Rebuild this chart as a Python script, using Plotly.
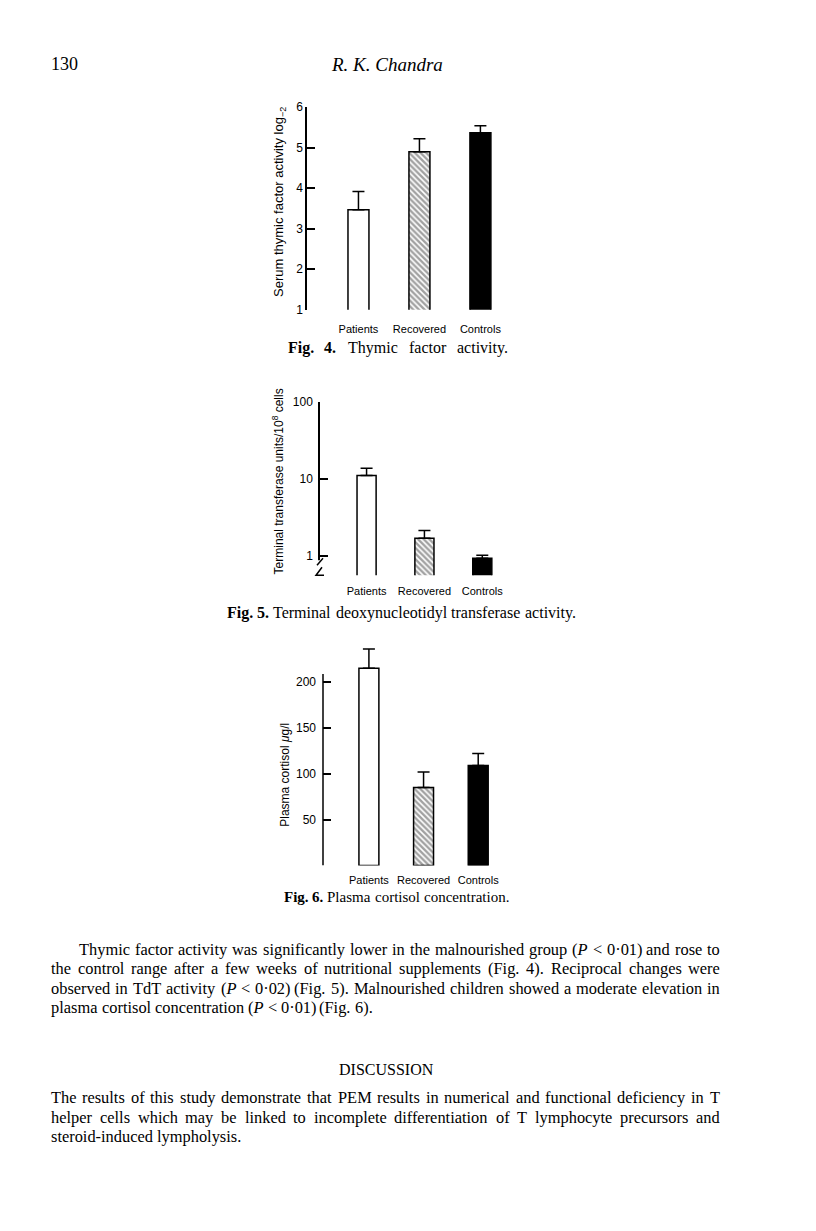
import plotly.graph_objects as go

# ---------------- data ----------------
categories = ["Patients", "Recovered", "Controls"]

fig4_values = [3.47, 4.90, 5.37]
fig4_errors = [0.45, 0.32, 0.17]
fig4_ticks = [1, 2, 3, 4, 5, 6]
fig4_ticktext = ["1", "2", "3", "4", "5", "6"]

fig5_values = [11.1, 1.71, 0.94]
fig5_errors = [2.6, 0.45, 0.09]
fig5_ticks = [1, 10, 100]
fig5_ticktext = ["1", "10", "100"]

fig6_values = [215, 85, 109]
fig6_errors = [21, 17, 13]
fig6_ticks = [50, 100, 150, 200]
fig6_ticktext = ["50", "100", "150", "200"]
fig6_axis_top = 208.7

bar_colors = ["white", "white", "black"]
bar_patterns = ["", "\\", ""]

W, H = 816, 1231
# the captured page maps figure rows y -> 0.9907*y + 5.6; compensate
Y_SCALE, Y_SHIFT = 0.9907, 5.6


def px(x):
    return x / W


def py(y):
    return 1 - ((y - Y_SHIFT) / Y_SCALE) / H


SANS = "Liberation Sans"
SERIF = "Liberation Serif"

# Times / Liberation Serif advance widths (per 1000 em)
TW = {' ': 250, 'a': 444, 'b': 500, 'c': 444, 'd': 500, 'e': 444, 'f': 333,
      'g': 500, 'h': 500, 'i': 278, 'j': 278, 'k': 500, 'l': 278, 'm': 778,
      'n': 500, 'o': 500, 'p': 500, 'q': 500, 'r': 333, 's': 389, 't': 278,
      'u': 500, 'v': 500, 'w': 722, 'x': 500, 'y': 500, 'z': 444,
      'A': 722, 'B': 667, 'C': 667, 'D': 722, 'E': 611, 'F': 556, 'G': 722,
      'H': 722, 'I': 333, 'J': 389, 'K': 722, 'L': 611, 'M': 889, 'N': 722,
      'O': 722, 'P': 556, 'Q': 722, 'R': 667, 'S': 556, 'T': 611, 'U': 722,
      'V': 722, 'W': 944, 'X': 722, 'Y': 722, 'Z': 611,
      '.': 250, ',': 250, '(': 333, ')': 333, '<': 564, '·': 250, '-': 333}

STRUT = '<span style="color:rgba(0,0,0,0)">|</span>'

fig = go.Figure()


def add_bars(values, errors, xa, ya, width):
    fig.add_trace(go.Bar(
        x=categories, y=values, width=width,
        xaxis=xa, yaxis=ya,
        marker=dict(color=bar_colors,
                    line=dict(color="black", width=1.5),
                    pattern=dict(shape=bar_patterns, fgcolor="black",
                                 bgcolor="white", size=4, solidity=0.6)),
        error_y=dict(type="data", symmetric=False, array=errors,
                     arrayminus=[0, 0, 0], color="black", thickness=1.5,
                     width=6),
        showlegend=False, hoverinfo="skip"))


add_bars(fig4_values, fig4_errors, "x", "y", 0.344)
add_bars(fig5_values, fig5_errors, "x2", "y2", 0.33)
add_bars(fig6_values, fig6_errors, "x3", "y3", 0.365)


def xaxis_cfg(left, right, rng, anchor, standoff):
    return dict(domain=[px(left), px(right)], range=rng, anchor=anchor,
                type="category", showline=False, ticks="", showgrid=False,
                zeroline=False, ticklabelstandoff=standoff,
                tickfont=dict(family=SANS, size=11, color="black"))


def yaxis_cfg(top, bottom, rng, anchor, tickvals, ticktext, typ="linear",
              showline=True, standoff=0):
    return dict(domain=[py(bottom), py(top)], range=rng, anchor=anchor,
                type=typ, tickvals=tickvals, ticktext=ticktext,
                ticks="inside", ticklen=8, tickwidth=1.5, tickcolor="black",
                showline=showline, linewidth=1.5, linecolor="black",
                showgrid=False, zeroline=False, ticklabelstandoff=standoff,
                tickfont=dict(family=SANS, size=12, color="black"))


y3 = yaxis_cfg(640.6, 866, [0, 245], "x3", fig6_ticks, fig6_ticktext,
               showline=False, standoff=6)
y3["minor"] = dict(tickmode="array", tickvals=[0], ticks="inside", ticklen=8,
                   tickwidth=1.5, tickcolor="black", showgrid=False)

fig.update_layout(
    width=W, height=H, autosize=False,
    margin=dict(l=0, r=0, t=0, b=0),
    paper_bgcolor="white", plot_bgcolor="rgba(0,0,0,0)",
    xaxis=xaxis_cfg(307, 517, [-0.844, 2.6], "y", 11),
    yaxis=yaxis_cfg(106, 309, [1, 6], "x", fig4_ticks, fig4_ticktext),
    xaxis2=xaxis_cfg(320, 517, [-0.805, 2.6], "y2", 8),
    yaxis2=yaxis_cfg(401, 575, [-0.245, 2], "x2", fig5_ticks, fig5_ticktext,
                     typ="log", standoff=3),
    xaxis3=xaxis_cfg(323, 511, [-0.84, 2.6], "y3", 6),
    yaxis3=y3,
)

# Fig. 6 axis line stops near the top tick
fig.add_shape(type="line", xref="x3 domain", yref="y3", x0=0, x1=0,
              y0=0, y1=fig6_axis_top, line=dict(color="black", width=1.5))

# axis break on the log axis of Fig. 5
fig.add_shape(type="rect", xref="paper", yref="paper",
              x0=px(318), x1=px(323), y0=py(576), y1=py(560),
              line=dict(width=0), fillcolor="white", layer="above")
fig.add_shape(type="path", xref="paper", yref="paper",
              path=f"M {px(323)},{py(558)} L {px(317)},{py(565)} "
                   f"M {px(322)},{py(567)} L {px(316)},{py(575)} "
                   f"L {px(324)},{py(575)}",
              line=dict(color="black", width=1.5), layer="above")

annotations = []


def ann(text, x, y, size, family=SERIF, xanchor="center", angle=0):
    annotations.append(dict(text=text, x=px(x), y=py(y), xref="paper",
                            yref="paper", xanchor=xanchor, yanchor="middle",
                            showarrow=False, textangle=angle, borderpad=0,
                            font=dict(family=family, size=size,
                                      color="black")))


def word_width(w, size):
    total = 0
    for ch in w:
        total += TW.get(ch, 500)
    if w.startswith("(P"):
        total += 611 - 556  # italic P
    return total * size / 1000


def markup(w, bold_words=()):
    if w in bold_words:
        return "<b>" + w + "</b>"
    if w.startswith("(P"):
        return "(<i>P</i>" + w[2:]
    if w == "<":
        return "&lt;"
    return w


def text_line(text, x0, x1, y, size, justify=True, bold_words=()):
    words = text.split(" ")
    widths = [word_width(w, size) for w in words]
    if justify and len(words) > 1:
        gap = (x1 - x0 - sum(widths)) / (len(words) - 1)
    else:
        gap = TW[' '] * size / 1000
    x = x0
    for w, wd in zip(words, widths):
        ann(markup(w, bold_words) + STRUT, x, y, size, xanchor="left")
        x += wd + gap


# header
ann("130", 50, 63, 18, xanchor="left")
ann("<i>R. K. Chandra</i>", 330, 63, 19, xanchor="left")

# y-axis titles
ann("Serum thymic factor activity log<sub>−2</sub>", 280, 201, 13,
    family=SANS, angle=-90)
ann("Terminal transferase units/10<sup>8</sup> cells", 278, 481, 12,
    family=SANS, angle=-90)
ann("Plasma cortisol <i>μ</i>g/l", 285, 775, 12, family=SANS, angle=-90)

# captions
text_line("Fig. 4. Thymic factor activity.", 287, 508, 347, 16,
          bold_words=("Fig.", "4."))
text_line("Fig. 5. Terminal deoxynucleotidyl transferase activity.",
          226, 576, 613, 16, bold_words=("Fig.", "5."))
text_line("Fig. 6. Plasma cortisol concentration.", 283, 508, 897, 15,
          bold_words=("Fig.", "6."))

# body text
LEFT, RIGHT, BODY = 50, 719, 16.4
body1 = [
    ("Thymic factor activity was significantly lower in the malnourished "
     "group (P < 0·01) and rose to", 78, 950, True),
    ("the control range after a few weeks of nutritional supplements "
     "(Fig. 4). Reciprocal changes were", LEFT, 969, True),
    ("observed in TdT activity (P < 0·02) (Fig. 5). Malnourished "
     "children showed a moderate elevation in", LEFT, 989, True),
    ("plasma cortisol concentration (P < 0·01) (Fig. 6).", LEFT, 1008, False),
]
for t, x, y, j in body1:
    text_line(t, x, RIGHT, y, BODY, justify=j)

ann("DISCUSSION", 386, 1070, 16)

body2 = [
    ("The results of this study demonstrate that PEM results in numerical "
     "and functional deficiency in T", 1098, True),
    ("helper cells which may be linked to incomplete differentiation of "
     "T lymphocyte precursors and", 1118, True),
    ("steroid-induced lympholysis.", 1137, False),
]
for t, y, j in body2:
    text_line(t, LEFT, RIGHT, y, BODY, justify=j)

fig.update_layout(annotations=annotations)

fig.write_html(
    "out.html",
    config={"displayModeBar": False},
    post_script=(
        "var d=document.getElementById('{plot_id}');"
        "d.style.position='fixed';d.style.top='0px';d.style.left='0px';"
        "document.body.style.margin='0px';"
        "document.body.style.overflow='hidden';"
        "document.documentElement.style.overflow='hidden';"))
